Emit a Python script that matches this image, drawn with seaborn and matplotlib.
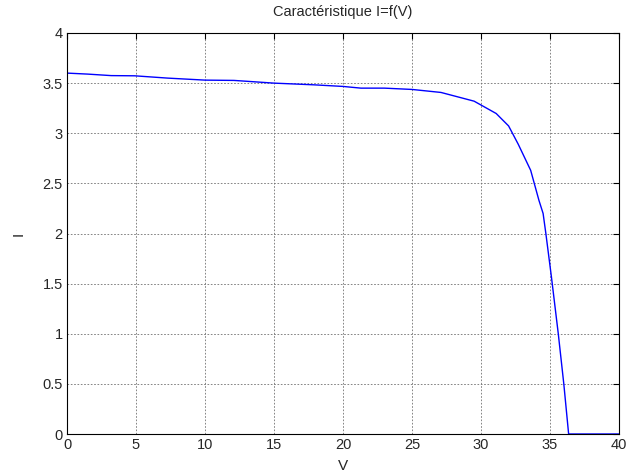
import pandas as pd
import matplotlib
matplotlib.use("Agg")
import matplotlib.pyplot as plt
import seaborn as sns

# I-V characteristic points
tension = [0, 1.5, 3.2, 4.9, 7.3, 10.0, 12.1, 15.0, 17.9, 20.0, 21.3, 23.0, 25.0,
           27.1, 29.5, 31.1, 32.0, 32.7, 33.6, 34.2, 34.5, 34.7, 35.1, 35.6, 36.0,
           36.35, 38.0, 40.0]
courant = [3.60, 3.59, 3.575, 3.573, 3.55, 3.53, 3.527, 3.50, 3.483, 3.467, 3.45,
           3.45, 3.437, 3.407, 3.32, 3.197, 3.073, 2.89, 2.63, 2.33, 2.2, 2.0,
           1.57, 1.0, 0.5, 0.0, 0.0, 0.0]
x_ticks = [0, 5, 10, 15, 20, 25, 30, 35, 40]
y_ticks = [0, 0.5, 1, 1.5, 2, 2.5, 3, 3.5, 4]

df = pd.DataFrame({"V": tension, "I": courant})

sns.set_style("white")
plt.rcParams["font.family"] = ["Liberation Sans", "DejaVu Sans"]

fig = plt.figure(figsize=(6.37, 4.76), dpi=100)
ax = fig.add_axes([67 / 637, 42 / 476, 552 / 637, 401 / 476])

sns.lineplot(data=df, x="V", y="I", ax=ax, color="#0000ff", linewidth=1.0,
             sort=False, estimator=None)

ax.set_xlim(0, 40)
ax.set_ylim(0, 4)
ax.set_xticks(x_ticks)
ax.set_yticks(y_ticks)
ax.set_xticklabels([str(t) for t in x_ticks])
ax.set_yticklabels([f"{t:g}" for t in y_ticks])
ax.grid(True, color="#707070", linestyle=(0, (2, 2)), linewidth=0.6)
ax.tick_params(direction="in", length=4, labelsize=10.5, color="black", pad=3)
ax.tick_params(top=True, right=True, labeltop=False, labelright=False)
for s in ax.spines.values():
    s.set_color("black")
    s.set_linewidth(0.8)

ax.set_title("Caractéristique I=f(V)", fontsize=10.5, pad=12)
ax.set_xlabel("V", fontsize=11, labelpad=5)
ax.set_ylabel("I", fontsize=11, labelpad=12, rotation=90)

fig.savefig("out.png", dpi=100)
